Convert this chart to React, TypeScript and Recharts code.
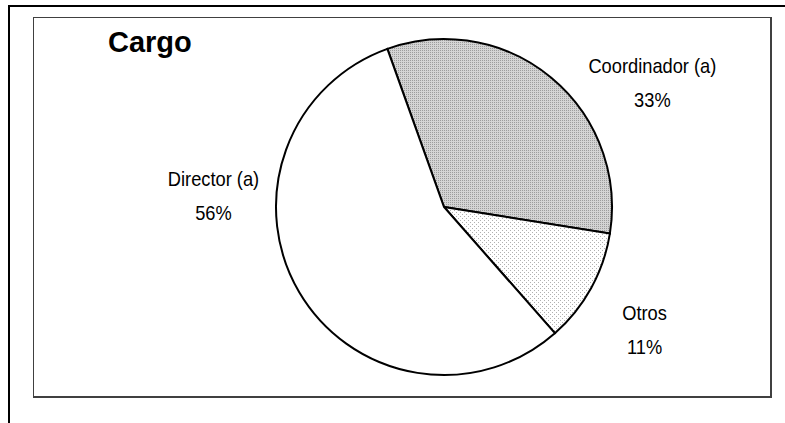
import React from "react"
import { PieChart, Pie, Cell } from "recharts"

// Datos del gráfico
const categories = ["Coordinador (a)", "Otros", "Director (a)"]
const shares = [33, 11, 56]
const chartTitle = "Cargo"

const chartData = categories.map((name, i) => ({ name, value: shares[i] }))

// Rellenos (patrones tipo Excel)
const FILLS = ["url(#hatchGray)", "url(#dotsLight)", "#ffffff"]

// Posición de las etiquetas: ángulo (grados) y factor del radio
const LABEL_PLACEMENT = [
  { angle: 32.7, factor: 1.474 },
  { angle: -29.4, factor: 1.37 },
  { angle: 174.7, factor: 1.378 },
]

const FONT = '"Liberation Sans", Arial, sans-serif'
const RADIAN = Math.PI / 180

const renderLabel = ({ cx, cy, outerRadius, index, percent, name }: any) => {
  const place = LABEL_PLACEMENT[index]
  const r = outerRadius * place.factor
  const x = cx + r * Math.cos(place.angle * RADIAN)
  const y = cy - r * Math.sin(place.angle * RADIAN)
  return (
    <g transform={`translate(${x},${y}) scale(0.87,1)`}>
      <text x={0} y={0} textAnchor="middle" fontFamily={FONT} fontSize={21} fill="#000">
        {name}
      </text>
      <text x={0} y={34} textAnchor="middle" fontFamily={FONT} fontSize={21} fill="#000">
        {`${Math.round(percent * 100)}%`}
      </text>
    </g>
  )
}

export default function App() {
  return (
    <div
      style={{
        position: "fixed",
        left: 0,
        top: 0,
        width: 785,
        height: 423,
        background: "#fff",
        overflow: "hidden",
      }}
    >
      {/* marco exterior */}
      <div style={{ position: "absolute", left: 8, top: 5, width: 790, height: 430, borderTop: "2px solid #000", borderLeft: "2px solid #000" }} />
      {/* área del gráfico */}
      <div
        style={{
          position: "absolute",
          left: 33,
          top: 17,
          width: 736,
          height: 378,
          borderTop: "1px solid #404040",
          borderLeft: "1px solid #404040",
          borderRight: "2px solid #404040",
          borderBottom: "2px solid #404040",
        }}
      />
      <div
        style={{
          position: "absolute",
          left: 108,
          top: 25,
          fontFamily: FONT,
          fontWeight: "bold",
          fontSize: 29,
          lineHeight: "34px",
          color: "#000",
        }}
      >
        {chartTitle}
      </div>
      <div style={{ position: "absolute", left: 0, top: 0 }}>
        <PieChart width={785} height={423}>
          <defs>
            <pattern id="hatchGray" width={2} height={2} patternUnits="userSpaceOnUse">
              <rect width={2} height={2} fill="#d4d4d4" />
              <rect width={1} height={1} fill="#9c9c9c" />
            </pattern>
            <pattern id="dotsLight" width={4} height={4} patternUnits="userSpaceOnUse">
              <rect width={4} height={4} fill="#ffffff" />
              <rect x={0} y={0} width={1} height={1} fill="#b0b0b0" />
              <rect x={2} y={2} width={1} height={1} fill="#b0b0b0" />
            </pattern>
          </defs>
          <Pie
            data={chartData}
            dataKey="value"
            nameKey="name"
            cx={439}
            cy={202}
            outerRadius={168}
            startAngle={109.7}
            endAngle={109.7 - 360}
            stroke="#000"
            strokeWidth={2}
            labelLine={false}
            label={renderLabel}
            isAnimationActive={false}
          >
            {chartData.map((entry, index) => (
              <Cell key={`cell-${index}`} fill={FILLS[index]} />
            ))}
          </Pie>
        </PieChart>
      </div>
    </div>
  )
}
